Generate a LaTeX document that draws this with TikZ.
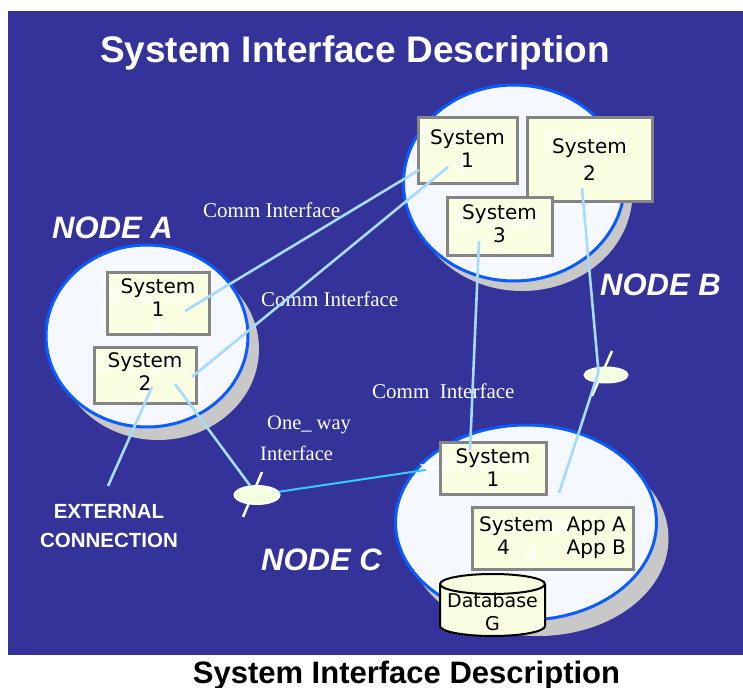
\documentclass[tikz,border=0pt]{standalone}
\usepackage{fontspec}
\setmainfont{Liberation Serif}
\newfontfamily\arialfont{Liberation Sans}
\newfontfamily\comicfont{DejaVu Sans}
\usetikzlibrary{shapes.geometric,shadows,calc,arrows.meta}

\definecolor{slidebg}{HTML}{333399}
\definecolor{nodefill}{HTML}{F5F8FF}
\definecolor{nodeline}{HTML}{0A5CFF}
\definecolor{shadowgray}{HTML}{C8C8C8}
\definecolor{boxfill}{HTML}{FAFFE2}
\definecolor{boxline}{HTML}{858585}
\definecolor{connblue}{HTML}{A6DAFF}
\definecolor{onewayblue}{HTML}{33CCFF}
\definecolor{markfill}{HTML}{F2FFE0}

\begin{document}
\begin{tikzpicture}[x=1pt,y=-1pt,
  cloud/.style n args={4}{ellipse, minimum width=#1, minimum height=#2, inner sep=0,
    fill=nodefill, draw=nodeline, line width=3pt,
    drop shadow={shadow xshift=#3pt, shadow yshift=-#4pt, fill=shadowgray, opacity=1}},
  sysbox/.style 2 args={rectangle, minimum width=#1, minimum height=#2, inner sep=0,
    fill=boxfill, draw=boxline, line width=3pt, align=center,
    font=\comicfont\fontsize{20}{23}\selectfont},
  ghostfont/.style={white, inner sep=0, anchor=base,
    font=\arialfont\fontsize{21}{21}\selectfont},
  ghost/.style n args={5}{path picture={
    \node[ghostfont] at ($(path picture bounding box.center)+(#1,#2)$) {SYSTEM};
    \node[ghostfont] at ($(path picture bounding box.center)+(#3,#4)$) {#5};}},
  conn/.style={connblue, line width=2.6pt},
  oneway/.style={onewayblue, line width=2pt,
    -{Stealth[length=18pt, width=14pt, color=white]}},
  marker/.style n args={2}{ellipse, minimum width=#1, minimum height=#2, inner sep=0,
    fill=markfill, draw=white, line width=2pt},
  slash/.style={white, line width=2.5pt},
  nodelabel/.style={white, inner sep=0, anchor=base west,
    font=\arialfont\bfseries\itshape\fontsize{31}{31}\selectfont},
  commlabel/.style={white, inner sep=0, anchor=base west,
    font=\fontsize{21}{21}\selectfont},
  dbshape/.style={fill=boxfill, draw=black, line width=2pt}
]
\useasboundingbox (0,0) rectangle (743,687);
\fill[white] (0,0) rectangle (743,687);
\fill[slidebg] (8,11) rectangle (743,655);

% headings
\node[white, inner sep=0, anchor=base, font=\arialfont\bfseries\fontsize{37}{37}\selectfont]
  (title) at (355,63) {System Interface Description};
\node[black, inner sep=0, anchor=base, font=\arialfont\bfseries\fontsize{31}{31}\selectfont]
  (caption) at (406.5,683) {System Interface Description};

% the three computing nodes
\node[cloud={202}{182}{11}{13}] (nodeA) at (147,336) {};
\node[cloud={221}{196}{8}{10}] (nodeB) at (514,183) {};
\node[cloud={261}{195}{12}{16}] (nodeC) at (526,522.5) {};

\node[nodelabel] (labA) at (52,238) {NODE A};
\node[nodelabel] (labB) at (600,295) {NODE B};
\node[nodelabel] (labC) at (261,570) {NODE C};

% interface captions
\node[commlabel] (ci1) at (203,217) {Comm Interface};
\node[commlabel] (ci2) at (261,306) {Comm Interface};
\node[commlabel] (ci3) at (372,398) {Comm\ \ Interface};
\node[commlabel, font=\fontsize{20.5}{20.5}\selectfont] (ow1) at (267,429) {One\_ way};
\node[commlabel, font=\fontsize{20.5}{20.5}\selectfont] (ow2) at (260,460) {Interface};

\node[white, align=center, inner sep=0,
  font=\arialfont\bfseries\fontsize{20.5}{29}\selectfont] (extlab) at (109,526)
  {EXTERNAL\\CONNECTION};

% systems
\node[sysbox={102}{62}, text depth=10pt, ghost={-6}{-1}{0}{29}{1}] (aS1) at (158,303) {System\\1};
\node[sysbox={102}{56}, text depth=6pt, ghost={-6.5}{-4}{-3}{23}{2}] (aS2) at (145,375) {System\\2};
\node[sysbox={99}{65}, text depth=4pt, ghost={-5}{-7.5}{-5.5}{21.5}{1}] (bS1) at (467.5,150.5) {System\\1};
\node[sysbox={125}{83}, ghost={-4.5}{-12.5}{-4.5}{15.5}{2}] (bS2) at (589.5,159.5) {System\\[4pt]2};
\node[sysbox={105}{58}, text depth=4pt, ghost={-1}{1}{0.5}{24}{3}] (bS3) at (499.5,226) {System\\3};
\node[sysbox={106}{52}, ghost={-8}{4}{0}{31}{1}] (cS1) at (493,468) {System\\1};
\node[sysbox={161}{62}, ghost={-26.5}{-5}{-20.5}{24}{4}] (cS4) at (552.5,538)
  {\begin{tabular}{@{}l@{\hspace{13pt}}l@{}}System & App A\\\hspace{18pt}4 & App B\end{tabular}};

% database
\filldraw[dbshape] (440,584) -- (440,626)
  arc[start angle=180, end angle=0, x radius=52.5, y radius=10] -- (545,584)
  arc[start angle=0, end angle=-180, x radius=52.5, y radius=10] -- cycle;
\draw[dbshape, fill=none] (440,584) arc[start angle=180, end angle=0, x radius=52.5, y radius=10];
\node[align=center, inner sep=0, font=\comicfont\fontsize{19}{23}\selectfont] (db) at (492.5,612) {Database\\G};

% connection points
\coordinate (ext) at (108,486);
\coordinate (mkAc) at (257,495);
\coordinate (mkBc) at (606,375);
\coordinate (xB) at (598.5,372);
\coordinate (cEnd) at (559,493);

% line markers
\draw[slash] ($(mkAc)+(5,-23)$) -- ($(mkAc)+(-14,22)$);
\node[marker={45}{18}] (mkA) at (mkAc) {};
\draw[slash] ($(mkBc)+(6,-24)$) -- ($(mkBc)+(-14,21)$);
\node[marker={43}{15}] (mkB) at (mkBc) {};

% connectors
\draw[conn] ($(aS1.center)+(27,8)$) -- ($(bS1.center)+(-48.5,19.5)$);
\draw[conn] ($(aS2.center)+(47,2)$) -- ($(bS1.center)+(-19.5,16.5)$);
\draw[conn] ($(aS2.center)+(7,12)$) -- (ext);
\draw[conn] ($(aS2.center)+(30,9)$) -- (mkA);
\draw[oneway] (mkA) -- (cS1.west);
\draw[conn] ($(bS3.center)+(-20.5,15)$) -- ($(cS1.center)+(-23,-18)$);
\draw[conn] ($(bS2.center)+(-7.5,28.5)$) -- (xB) -- (cEnd);
\end{tikzpicture}
\end{document}
